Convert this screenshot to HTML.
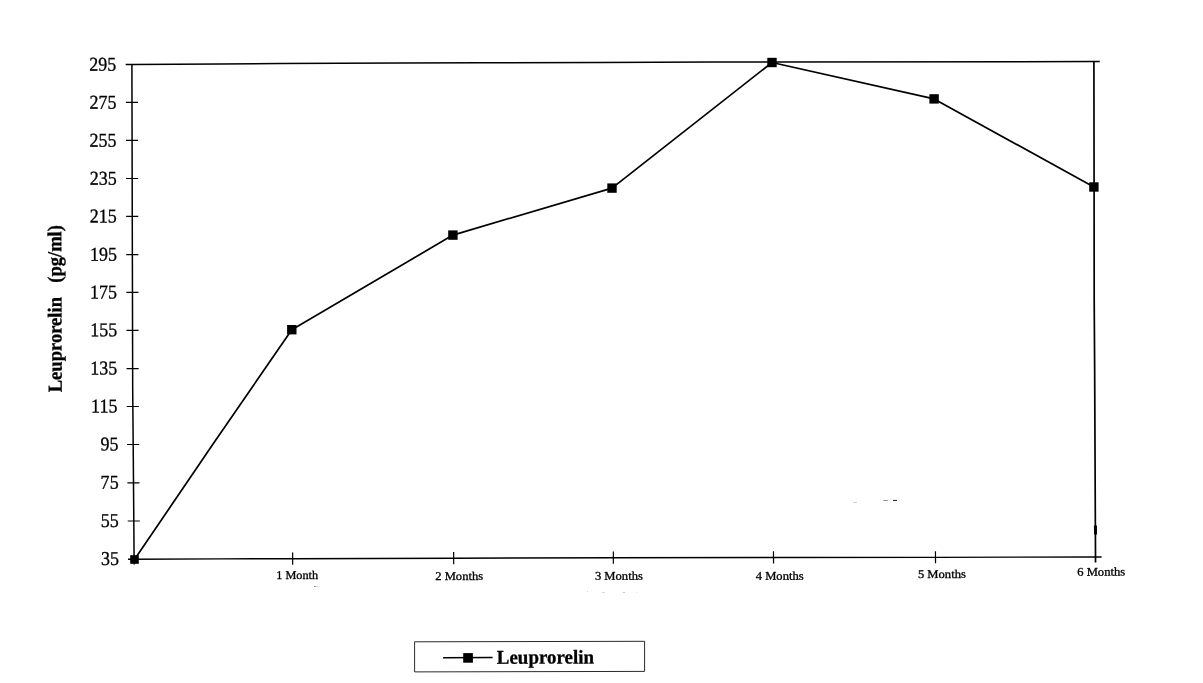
<!DOCTYPE html>
<html lang="en">
<head>
<meta charset="utf-8">
<title>Leuprorelin (pg/ml)</title>
<style>
html,body{margin:0;padding:0;background:#fff;}
body{width:1203px;height:683px;overflow:hidden;}
svg{display:block;}
text{font-family:"Liberation Serif","DejaVu Serif",serif;fill:#000;stroke:#000;stroke-width:0.3px;stroke-linejoin:round;}
.ax{stroke:#000;stroke-width:1.5;fill:none;stroke-linecap:butt;}
.tk{stroke:#000;stroke-width:1.2;fill:none;}
.dl{stroke:#000;stroke-width:1.7;fill:none;stroke-linejoin:round;}
.yl{font-size:18.5px;text-anchor:end;stroke-width:0.38px;}
.xl{font-size:12.3px;text-anchor:start;stroke-width:0.5px;}
.ttl{font-size:19.2px;font-weight:bold;}
.lg{font-size:19.5px;font-weight:bold;}
</style>
</head>
<body>
<svg width="1203" height="683" viewBox="0 0 1203 683">
<rect x="0" y="0" width="1203" height="683" fill="#fff"/>
<g class="ax">
<polyline points="125.7,64.42 132,64.4 220,63.9 280,63.45 400,62.95 480,62.85 600,62.55 712,62.1 772,61.9 1020,61.7 1094,61.5 1099.8,61.48"/>
<polyline points="131.9,64.4 132.5,312 132.7,390 133.3,458 134.1,559.2 134.12,564.6"/>
<polyline points="1093.9,61.5 1094.1,187 1094.2,300 1094.65,368 1095.5,557 1095.52,562.6" style="stroke-width:1.7"/>
<polyline points="128,559.25 134.1,559.2 220,558.9 292.65,558.7 453.65,558.2 613.35,557.75 773.5,557.5 935.5,557.35 1095.5,557.0 1101.6,556.98" style="stroke-width:1.4"/>
</g>
<line x1="1095.45" y1="525.5" x2="1095.5" y2="534.5" stroke="#000" stroke-width="3"/>
<g class="tk">
<line x1="125.89" y1="102.42" x2="137.99" y2="102.38"/>
<line x1="125.98" y1="140.42" x2="138.08" y2="140.38"/>
<line x1="126.08" y1="178.52" x2="138.18" y2="178.48"/>
<line x1="126.17" y1="216.42" x2="138.27" y2="216.38"/>
<line x1="126.26" y1="254.62" x2="138.36" y2="254.58"/>
<line x1="126.35" y1="292.42" x2="138.45" y2="292.38"/>
<line x1="126.45" y1="330.32" x2="138.55" y2="330.28"/>
<line x1="126.55" y1="368.62" x2="138.65" y2="368.58"/>
<line x1="126.75" y1="406.52" x2="138.85" y2="406.48"/>
<line x1="127.08" y1="444.52" x2="139.18" y2="444.48"/>
<line x1="127.40" y1="482.92" x2="139.50" y2="482.88"/>
<line x1="127.70" y1="521.02" x2="139.80" y2="520.98"/>
<line x1="292.63" y1="552.50" x2="292.67" y2="564.70"/>
<line x1="453.63" y1="552.00" x2="453.67" y2="564.20"/>
<line x1="613.33" y1="551.55" x2="613.37" y2="563.75"/>
<line x1="773.48" y1="551.30" x2="773.52" y2="563.50"/>
<line x1="935.48" y1="551.15" x2="935.52" y2="563.35"/>
</g>
<g class="yl">
<text x="0" y="0" transform="translate(116.30 70.70) rotate(-0.17) scale(0.975 1.06)">295</text>
<text x="0" y="0" transform="translate(116.43 108.65) rotate(-0.17) scale(0.975 1.06)">275</text>
<text x="0" y="0" transform="translate(116.56 146.60) rotate(-0.17) scale(0.975 1.06)">255</text>
<text x="0" y="0" transform="translate(116.69 184.65) rotate(-0.17) scale(0.975 1.06)">235</text>
<text x="0" y="0" transform="translate(116.82 222.50) rotate(-0.17) scale(0.975 1.06)">215</text>
<text x="0" y="0" transform="translate(116.95 260.65) rotate(-0.17) scale(0.975 1.06)">195</text>
<text x="0" y="0" transform="translate(117.08 298.40) rotate(-0.17) scale(0.975 1.06)">175</text>
<text x="0" y="0" transform="translate(117.21 336.25) rotate(-0.17) scale(0.975 1.06)">155</text>
<text x="0" y="0" transform="translate(117.34 374.50) rotate(-0.17) scale(0.975 1.06)">135</text>
<text x="0" y="0" transform="translate(117.47 412.35) rotate(-0.17) scale(0.975 1.06)">115</text>
<text x="0" y="0" transform="translate(118.45 450.35) rotate(-0.17) scale(0.975 1.06)">95</text>
<text x="0" y="0" transform="translate(118.65 488.75) rotate(-0.17) scale(0.975 1.06)">75</text>
<text x="0" y="0" transform="translate(118.85 526.85) rotate(-0.17) scale(0.975 1.06)">55</text>
<text x="0" y="0" transform="translate(119.05 565.05) rotate(-0.17) scale(0.975 1.06)">35</text>
</g>
<g class="xl">
<text x="276.20" y="579.00" transform="rotate(-0.17 276.20 579.00)" textLength="42.0" lengthAdjust="spacingAndGlyphs" style="font-size:11.8px">1 Month</text>
<text x="435.20" y="580.00" transform="rotate(-0.17 435.20 580.00)" textLength="48.0" lengthAdjust="spacingAndGlyphs" style="font-size:11.8px">2 Months</text>
<text x="594.90" y="579.80" transform="rotate(-0.17 594.90 579.80)" textLength="48.0" lengthAdjust="spacingAndGlyphs" style="font-size:11.8px">3 Months</text>
<text x="755.70" y="579.80" transform="rotate(-0.17 755.70 579.80)" textLength="48.0" lengthAdjust="spacingAndGlyphs" style="font-size:11.8px">4 Months</text>
<text x="917.90" y="578.00" transform="rotate(-0.17 917.90 578.00)" textLength="48.0" lengthAdjust="spacingAndGlyphs" style="font-size:11.8px">5 Months</text>
<text x="1077.20" y="575.70" transform="rotate(-0.17 1077.20 575.70)" textLength="48.0" lengthAdjust="spacingAndGlyphs" style="font-size:11.8px">6 Months</text>
</g>
<text class="ttl" transform="translate(61.7,392.3) rotate(-90.17) scale(1 1.035)"><tspan x="0" textLength="95.3" lengthAdjust="spacingAndGlyphs">Leuprorelin</tspan> <tspan x="109.6" textLength="57.6" lengthAdjust="spacingAndGlyphs">(pg/ml)</tspan></text>
<polyline class="dl" points="134.5,559.5 173.6,502.0 212.7,444.6 291.8,329.7 452.9,235.1 612.0,188.1 772.0,62.5 934.1,98.9 1093.9,187.0"/>
<g fill="#000">
<rect x="130.20" y="555.20" width="8.6" height="8.6"/>
<rect x="287.10" y="325.00" width="9.4" height="9.4"/>
<rect x="448.20" y="230.40" width="9.4" height="9.4"/>
<rect x="607.30" y="183.40" width="9.4" height="9.4"/>
<rect x="767.30" y="57.80" width="9.4" height="9.4"/>
<rect x="929.40" y="94.20" width="9.4" height="9.4"/>
<rect x="1089.20" y="182.30" width="9.4" height="9.4"/>
</g>
<polygon points="414.6,641.8 644.6,641.3 644.6,671.4 414.6,671.9" fill="none" stroke="#2a2a2a" stroke-width="1"/>
<line class="dl" x1="443.1" y1="657.7" x2="492.6" y2="657.5" style="stroke-width:1.5"/>
<rect x="463.2" y="653.1" width="9.7" height="9.6" fill="#000"/>
<text class="lg" x="496.8" y="663.7" transform="rotate(-0.17 496.8 663.7)" textLength="97.2" lengthAdjust="spacingAndGlyphs">Leuprorelin</text>
<g>
<rect x="853" y="502" width="4" height="0.9" fill="#c8c8c8"/>
<rect x="883.3" y="500" width="4.5" height="0.9" fill="#8a8a8a"/>
<rect x="893" y="499.9" width="4" height="1.0" fill="#1a1a1a"/>
<rect x="314" y="586.1" width="1.6" height="0.8" fill="#555"/>
<rect x="315.6" y="586.1" width="3" height="0.8" fill="#ccc"/>
<rect x="587.2" y="591.2" width="0.8" height="0.8" fill="#bbb"/>
<rect x="602" y="592.2" width="3" height="0.8" fill="#ccc"/>
<rect x="622.8" y="592.2" width="2.2" height="0.8" fill="#bbb"/>
<rect x="636.4" y="592.2" width="0.8" height="0.8" fill="#ccc"/>
</g>
</svg>
</body>
</html>
